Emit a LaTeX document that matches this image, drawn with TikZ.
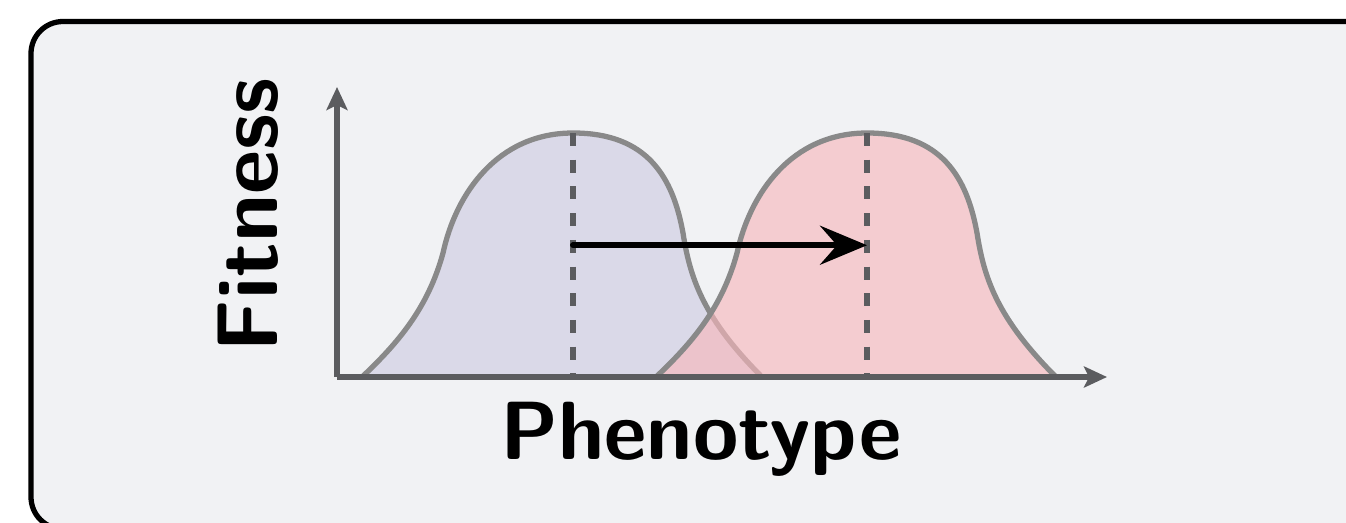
\documentclass[tikz,border=0pt]{standalone}
\usepackage{tikz}
\usetikzlibrary{arrows.meta,calc}
\definecolor{panelBg}{HTML}{F1F2F4}
\definecolor{axisGray}{HTML}{5B5C5F}
\definecolor{curveGray}{HTML}{898989}
\definecolor{popBlue}{HTML}{DAD9E8}
\definecolor{popRed}{HTML}{F7B7BC}

\begin{document}
\begin{tikzpicture}[font=\sffamily\bfseries\fontsize{23.5}{28}\selectfont,
  axis/.style={axisGray,line width=1.6pt,-{Stealth[length=0.23cm,width=0.21cm,inset=0.05cm]}},
  bump/.style={curveGray,line width=1.5pt},
  mean/.style={axisGray,line width=1.6pt,dash pattern=on 0.13cm off 0.137cm},
  shiftarrow/.style={black,line width=1.7pt,line cap=round,-{Stealth[length=0.47cm,width=0.39cm,inset=0.17cm]}}]
\useasboundingbox (0,0) rectangle (13.46,5.22);
\clip (0,0) rectangle (13.46,5.22);
% panel running off the right and bottom edges
\draw[line width=1.5pt,fill=panelBg,rounded corners=0.32cm] (0.31,-0.07) rectangle (14.5,5.005);
\coordinate (origin) at (3.37,1.45);
\coordinate (ytip) at (3.37,4.35);
\coordinate (xtip) at (11.07,1.45);
\coordinate (bluepeak) at (5.73,3.89);
\coordinate (redpeak) at (8.67,3.89);
% fitness curves : old and shifted population
\foreach \px/\col/\op in {5.73/popBlue/1, 8.67/popRed/0.64}
  \filldraw[bump,fill=\col,fill opacity=\op,shift={(\px,3.89)}]
    (-2.11,-2.44) .. controls (-1.75,-2.1) and (-1.45,-1.75) .. (-1.3,-1.2)
    .. controls (-1.17,-0.6) and (-0.75,0) .. (0,0)
    .. controls (0.75,0) and (1.0,-0.45) .. (1.1,-1.0)
    .. controls (1.17,-1.45) and (1.3,-1.85) .. (1.89,-2.44) -- cycle;
% means
\draw[mean] (bluepeak) -- (bluepeak |- origin);
\draw[mean] (redpeak) -- (redpeak |- origin);
\coordinate (bluemid) at ($(bluepeak)!0.46!(bluepeak |- origin)$);
\coordinate (redmid) at ($(redpeak)!0.46!(redpeak |- origin)$);
\draw[shiftarrow] (bluemid) -- (redmid);
% axes
\draw[axis] (origin) -- (ytip);
\draw[axis] (origin) -- (xtip);
\node[rotate=90,font=\sffamily\bfseries\fontsize{24.5}{29}\selectfont] (fitlabel) at (2.48,3.07) {Fitness};
\node[anchor=base] (phenolabel) at (7.01,0.63) {Phenotype};
\end{tikzpicture}
\end{document}
